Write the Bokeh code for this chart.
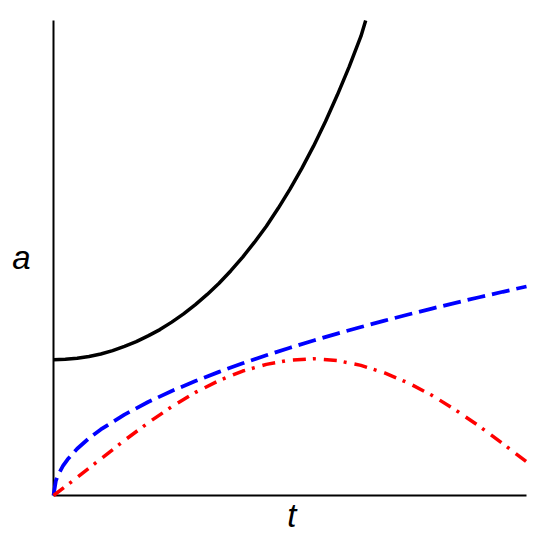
from bokeh.plotting import figure
from bokeh.models import Range1d
from bokeh.core.properties import value
from bokeh.embed import file_html
from bokeh.resources import INLINE

# --- data (t in [0,1], a in [0,1]) ---
t_black = [0.0, 0.025, 0.05, 0.075, 0.1, 0.125, 0.15, 0.175, 0.2, 0.225, 0.25, 0.275,
           0.3, 0.325, 0.35, 0.375, 0.4, 0.425, 0.45, 0.475, 0.5, 0.525, 0.55, 0.575,
           0.6, 0.625, 0.65, 0.66]
a_black = [0.286, 0.2868, 0.289, 0.2928, 0.298, 0.3051, 0.314, 0.3238, 0.336, 0.3493,
           0.365, 0.3823, 0.402, 0.4233, 0.447, 0.4733, 0.502, 0.5333, 0.567, 0.6046,
           0.645, 0.6886, 0.736, 0.7873, 0.843, 0.9025, 0.967, 1.0]

t_blue = [0.0, 0.005, 0.01, 0.02, 0.03, 0.05, 0.075, 0.1, 0.15, 0.2, 0.25, 0.3, 0.35,
          0.4, 0.45, 0.5, 0.55, 0.6, 0.65, 0.7, 0.75, 0.8, 0.85, 0.9, 0.95, 1.0]
a_blue = [0.0, 0.0311, 0.044, 0.0622, 0.0762, 0.0984, 0.1205, 0.1391, 0.1704, 0.1968,
          0.22, 0.241, 0.2603, 0.2783, 0.2952, 0.3111, 0.3263, 0.3408, 0.3547, 0.3681,
          0.3811, 0.3935, 0.4057, 0.4174, 0.4289, 0.44]

t_red = [0.0, 0.05, 0.1, 0.15, 0.2, 0.25, 0.3, 0.35, 0.4, 0.45, 0.5, 0.55, 0.6, 0.65,
         0.7, 0.75, 0.8, 0.85, 0.9, 0.95, 1.0]
a_red = [0.0, 0.038, 0.077, 0.116, 0.153, 0.187, 0.217, 0.242, 0.262, 0.276, 0.285,
         0.288, 0.284, 0.274, 0.258, 0.237, 0.211, 0.18, 0.146, 0.109, 0.071]

# axis extents (data units) and axis label texts
t_min, t_max = 0.0, 1.0
a_min, a_max = 0.0, 1.0
x_label = "t"
y_label = "a"

# whole canvas is the frame; ranges extended so that the axes sit inside it
p = figure(width=533, height=534, output_backend="svg", toolbar_location=None,
           x_axis_type=None, y_axis_type=None,
           x_range=Range1d(-0.11205, 1.0148), y_range=Range1d(-0.08211, 1.04211),
           min_border=0)
p.outline_line_color = None
p.grid.visible = False
p.background_fill_color = "white"
p.border_fill_color = "white"

# axes
p.segment(x0=[t_min, t_min], y0=[a_min, a_min], x1=[t_max, t_min], y1=[a_min, a_max],
          line_color="black", line_width=2)

# curves
p.line(t_black, a_black, line_color="black", line_width=3.5)
p.line(t_blue, a_blue, line_color="#0000ff", line_width=3.8, line_dash="18 7")
p.line(t_red, a_red, line_color="#ff0000", line_width=3.5, line_dash="13 7 3 8")

# axis labels
font = value("Liberation Sans")
p.text(x=[t_min - 0.0677], y=[a_min + 0.5011], text=[y_label], text_align="center",
       text_baseline="alphabetic", text_font=font, text_font_style="italic",
       text_font_size="33px", text_color="black")
p.text(x=[(t_min + t_max) / 2 + 0.0037], y=[a_min - 0.0421], text=[x_label],
       text_align="center", text_baseline="alphabetic", text_font=font,
       text_font_style="italic", text_font_size="33px", text_color="black")

open("out.html", "w").write(file_html(p, INLINE))
